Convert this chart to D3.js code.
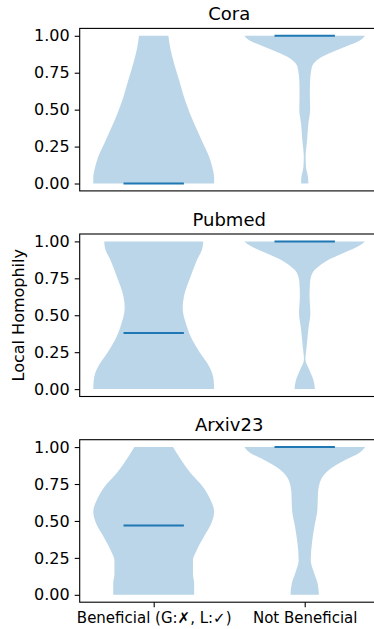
<!DOCTYPE html>
<html>
<head>
<meta charset="utf-8">
<script src="https://cdn.jsdelivr.net/npm/d3@7"></script>
<style>
  html, body { margin: 0; padding: 0; background: #fff; }
  svg { display: block; font-family: "DejaVu Sans", sans-serif; }
</style>
</head>
<body>
<svg id="chart" width="374" height="629"></svg>
<script>
// ---- Data ----
const categories = ["Beneficial (G:\u2717, L:\u2713)", "Not Beneficial"];
const categoryPositions = [1, 2];
const datasets = ["Cora", "Pubmed", "Arxiv23"];
const yTicks = [0, 0.25, 0.5, 0.75, 1.0];
const yLabel = "Local Homophily";

// medians per dataset: [Beneficial, Not Beneficial]
const coraMedians = [0.0, 1.0];
const pubmedMedians = [0.38, 1.0];
const arxivMedians = [0.47, 1.0];

// violin profiles: [local homophily, relative density (1 = widest)]
const coraBeneficial = [[0,1.0],[0.04,1.0],[0.11,0.97],[0.18,0.92],[0.27,0.82],[0.36,0.72],[0.474,0.6],[0.587,0.5],[0.7,0.42],[0.814,0.337],[0.905,0.28],[1.0,0.243]];
const coraNotBeneficial = [[0,0.06],[0.043,0.055],[0.11,0.022],[0.18,0.015],[0.29,0.039],[0.405,0.06],[0.5,0.09],[0.6,0.085],[0.7,0.09],[0.77,0.11],[0.8,0.13],[0.846,0.24],[0.89,0.46],[0.937,0.74],[0.97,0.92],[1.0,1.0]];
const pubmedBeneficial = [[0,1.0],[0.05,0.995],[0.105,0.97],[0.173,0.89],[0.25,0.76],[0.332,0.64],[0.423,0.55],[0.55,0.48],[0.627,0.5],[0.75,0.6],[0.877,0.72],[0.945,0.8],[1.0,0.82]];
const pubmedNotBeneficial = [[0,0.17],[0.062,0.144],[0.13,0.077],[0.2,0.012],[0.29,0.033],[0.404,0.06],[0.517,0.094],[0.63,0.08],[0.72,0.088],[0.788,0.13],[0.833,0.24],[0.879,0.41],[0.924,0.66],[0.97,0.9],[1.0,1.0]];
const arxivBeneficial = [[0,0.67],[0.075,0.67],[0.143,0.65],[0.234,0.65],[0.3,0.71],[0.393,0.83],[0.484,0.955],[0.564,1.0],[0.643,0.94],[0.734,0.81],[0.825,0.61],[0.916,0.45],[1.0,0.32]];
const arxivNotBeneficial = [[0,0.235],[0.075,0.215],[0.143,0.16],[0.234,0.1],[0.35,0.12],[0.46,0.16],[0.575,0.21],[0.69,0.22],[0.78,0.27],[0.848,0.41],[0.916,0.685],[0.96,0.9],[1.0,1.0]];

const profiles = [
  [coraBeneficial, coraNotBeneficial],
  [pubmedBeneficial, pubmedNotBeneficial],
  [arxivBeneficial, arxivNotBeneficial]
];
const medians = [coraMedians, pubmedMedians, arxivMedians];

// ---- Layout ----
const svg = d3.select("#chart");
const color = "#1f77b4";
const violinWidth = 0.8;
const axLeft = 79.7, axRight = 378.7;
const axTops = [28.4, 234.0, 439.7];
const axHeight = 162.5;
const yTickFont = 16, xTickFont = 15, labelFont = 16, titleFont = 18;

const x = d3.scaleLinear().domain([0.51, 2.49]).range([axLeft, axRight]);
const halfW = x(1 + violinWidth / 2) - x(1);

datasets.forEach((name, i) => {
  const top = axTops[i];
  const y = d3.scaleLinear().domain([-0.05, 1.05]).range([top + axHeight, top]);
  const g = svg.append("g");

  // violins
  profiles[i].forEach((prof, j) => {
    const cx = x(categoryPositions[j]);
    const area = d3.area()
      .y(d => y(d[0]))
      .x0(d => cx - d[1] * halfW)
      .x1(d => cx + d[1] * halfW)
      .curve(d3.curveMonotoneY);
    g.append("path")
      .datum(prof)
      .attr("d", area)
      .attr("fill", color)
      .attr("fill-opacity", 0.3)
      .attr("stroke", "none");
  });

  // medians
  medians[i].forEach((m, j) => {
    const cx = x(categoryPositions[j]);
    g.append("line")
      .attr("x1", cx - halfW / 2).attr("x2", cx + halfW / 2)
      .attr("y1", y(m)).attr("y2", y(m))
      .attr("stroke", color)
      .attr("stroke-width", 2);
  });

  // y axis
  const yAxis = d3.axisLeft(y).tickValues(yTicks).tickFormat(d3.format(".2f"))
    .tickSize(5).tickPadding(5);
  const ya = g.append("g").attr("transform", `translate(${axLeft},0)`).call(yAxis);
  ya.select(".domain").remove();
  ya.selectAll("line").attr("stroke", "#000").attr("stroke-width", 1.1);
  ya.selectAll("text").attr("font-size", yTickFont).attr("fill", "#000")
    .attr("font-family", "DejaVu Sans");

  // x axis only on last panel
  if (i === datasets.length - 1) {
    const xAxis = d3.axisBottom(x).tickValues(categoryPositions)
      .tickFormat((d, k) => categories[k]).tickSize(5).tickPadding(5);
    const xa = g.append("g").attr("transform", `translate(0,${top + axHeight})`).call(xAxis);
    xa.select(".domain").remove();
    xa.selectAll("line").attr("stroke", "#000").attr("stroke-width", 1.1);
    xa.selectAll("text").attr("font-size", xTickFont).attr("fill", "#000")
      .attr("font-family", "DejaVu Sans");
  }

  // frame
  g.append("rect")
    .attr("x", axLeft).attr("y", top)
    .attr("width", axRight - axLeft).attr("height", axHeight)
    .attr("fill", "none").attr("stroke", "#000").attr("stroke-width", 1.1);

  // title
  g.append("text")
    .attr("x", (axLeft + axRight) / 2).attr("y", top - 8.5)
    .attr("text-anchor", "middle")
    .attr("font-size", titleFont)
    .attr("fill", "#000")
    .text(name);
});

// y label
const midTop = axTops[1] + axHeight / 2;
svg.append("text")
  .attr("transform", `translate(23.5,${midTop}) rotate(-90)`)
  .attr("text-anchor", "middle")
  .attr("font-size", labelFont)
  .attr("fill", "#000")
  .text(yLabel);
</script>
</body>
</html>
